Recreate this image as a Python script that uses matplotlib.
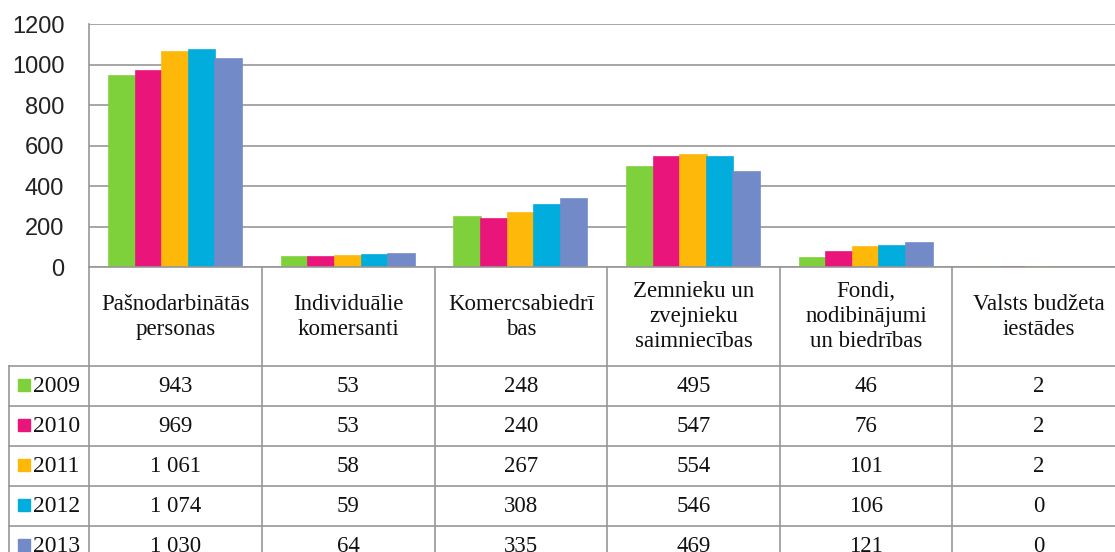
import matplotlib.pyplot as plt
import numpy as np
from matplotlib.patches import Rectangle

categories = ["Pašnodarbinātās\npersonas", "Individuālie\nkomersanti", "Komercsabiedrī\nbas",
              "Zemnieku un\nzvejnieku\nsaimniecības", "Fondi,\nnodibinājumi\nun biedrības",
              "Valsts budžeta\niestādes"]
years = ["2009", "2010", "2011", "2012", "2013"]
v2009 = [943, 53, 248, 495, 46, 2]
v2010 = [969, 53, 240, 547, 76, 2]
v2011 = [1061, 58, 267, 554, 101, 2]
v2012 = [1074, 59, 308, 546, 106, 0]
v2013 = [1030, 64, 335, 469, 121, 0]
labels2009 = ["943", "53", "248", "495", "46", "2"]
labels2010 = ["969", "53", "240", "547", "76", "2"]
labels2011 = ["1 061", "58", "267", "554", "101", "2"]
labels2012 = ["1 074", "59", "308", "546", "106", "0"]
labels2013 = ["1 030", "64", "335", "469", "121", "0"]
colors = ["#7fd13b", "#ea157a", "#feb80a", "#00addc", "#738ac8"]

series = [v2009, v2010, v2011, v2012, v2013]
row_labels = [labels2009, labels2010, labels2011, labels2012, labels2013]

W, H = 1115, 552
grid_c = "#979797"

fig = plt.figure(figsize=(W / 100, H / 100), dpi=100)

# layout in pixels
ax_left, ax_right = 89.3, 1125.0
ax_top, ax_bottom = 24.3, 267.3
leg_left = 9.3
header_bottom = 366.0
row_h = 40.0
cat_w = (ax_right - ax_left) / len(categories)

ax = fig.add_axes([ax_left / W, 1 - ax_bottom / H, (ax_right - ax_left) / W, (ax_bottom - ax_top) / H])
x = np.arange(len(categories))
group_w = 0.77
bar_w = group_w / len(years)
for i, (vals, c) in enumerate(zip(series, colors)):
    # thin edge so that very small values (2) still show as a line, zeros stay invisible
    lws = [1.2 if v > 0 else 0 for v in vals]
    ax.bar(x - group_w / 2 + (i + 0.5) * bar_w, vals, width=bar_w, color=c,
           edgecolor=c, linewidth=lws, zorder=3)

ax.set_xlim(-0.5, len(categories) - 0.5)
ax.set_ylim(0, 1200)
ax.set_yticks(np.arange(0, 1201, 200))
ax.set_xticks([])
ax.tick_params(axis="y", length=0, pad=18, labelsize=17, labelcolor="#222222")
for lab in ax.get_yticklabels():
    lab.set_family("Liberation Sans")
ax.grid(axis="y", color=grid_c, lw=1.2, zorder=0)
for s in ["top", "right"]:
    ax.spines[s].set_visible(False)
for s in ["left", "bottom"]:
    ax.spines[s].set_color(grid_c)
    ax.spines[s].set_linewidth(1.2)
    ax.spines[s].set_zorder(4)

# data table below the plot
leg_w = (ax_left - leg_left) / cat_w
tx0 = -0.5 - leg_w
tx1 = len(categories) - 0.5
tab = fig.add_axes([leg_left / W, 0, (ax_right - leg_left) / W, (H - ax_bottom) / H])
tab.set_xlim(tx0, tx1)
tab.set_ylim(H, ax_bottom)
tab.axis("off")

serif = "Liberation Serif"
fs = 16.5
n_rows = len(years)
bottom_y = header_bottom + row_h * n_rows

# vertical lines
for k in range(len(categories) + 1):
    tab.plot([k - 0.5, k - 0.5], [ax_bottom, bottom_y], color=grid_c, lw=1.2, clip_on=False)
tab.plot([tx0, tx0], [header_bottom, bottom_y], color=grid_c, lw=1.2, clip_on=False)
# horizontal lines
for r in range(n_rows):
    yy = header_bottom + r * row_h
    tab.plot([tx0, tx1], [yy, yy], color=grid_c, lw=1.2, clip_on=False)

# header
for k, name in enumerate(categories):
    tab.text(k, (ax_bottom + header_bottom) / 2, name, ha="center", va="center",
             family=serif, fontsize=fs, linespacing=1.25, color="#111111")

# rows
sq = 12.0
for r, (yr, labs, c) in enumerate(zip(years, row_labels, colors)):
    yc = header_bottom + (r + 0.5) * row_h
    tab.add_patch(Rectangle((tx0 + (18.3 - leg_left) / cat_w, yc - sq / 2 - 1.5), sq / cat_w, sq,
                            color=c, clip_on=False))
    tab.text(tx0 + (32.5 - leg_left) / cat_w, yc, yr, ha="left", va="center",
             family=serif, fontsize=17, color="#111111")
    for k, t in enumerate(labs):
        tab.text(k, yc, t, ha="center", va="center", family=serif, fontsize=fs, color="#111111")

fig.savefig("out.png", dpi=100)
